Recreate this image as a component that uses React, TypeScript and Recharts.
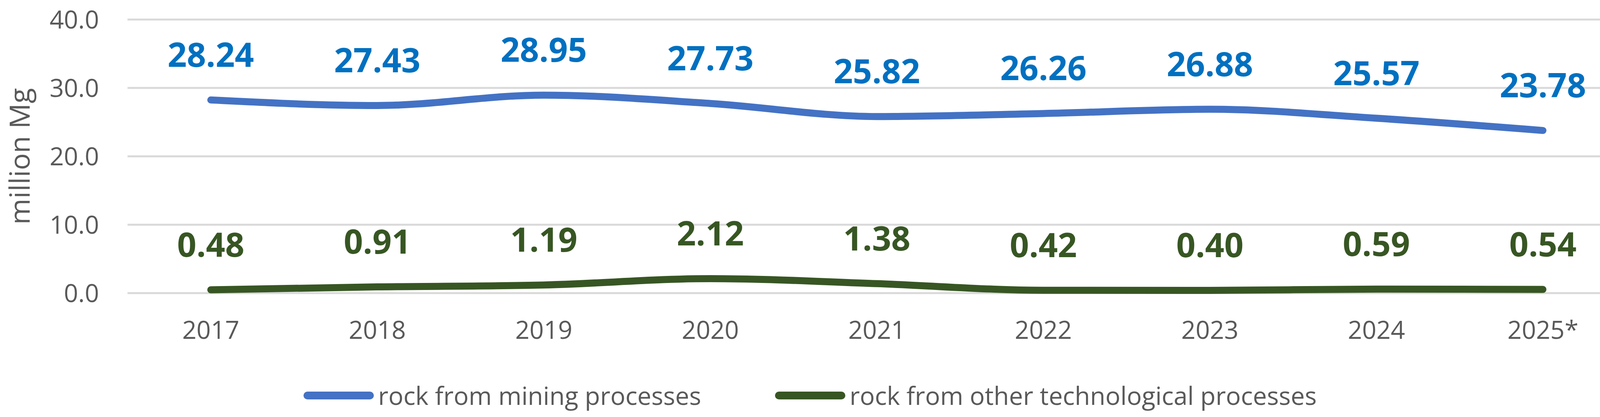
import React from 'react';
import { LineChart, Line, XAxis, YAxis, CartesianGrid, Legend, LabelList, Label } from 'recharts';

const years = ['2017', '2018', '2019', '2020', '2021', '2022', '2023', '2024', '2025*'];
const miningRock = [28.24, 27.43, 28.95, 27.73, 25.82, 26.26, 26.88, 25.57, 23.78];
const otherRock = [0.48, 0.91, 1.19, 2.12, 1.38, 0.42, 0.4, 0.59, 0.54];
const yTicks = [0, 10, 20, 30, 40];

const seriesNames = ['rock from mining processes', 'rock from other technological processes'];

const data = years.map((year, i) => ({
  year,
  mining: miningRock[i],
  other: otherRock[i],
}));

const FONT = "'Open Sans', sans-serif";
const GREY = '#595959';
const BLUE_LINE = '#4472C4';
const BLUE_TEXT = '#0070C0';
const GREEN = '#375623';

const WIDTH = 4188;
const HEIGHT = 1067;
const PLOT_LEFT = 326.5;
const PLOT_RIGHT = 4163;
// half a category band, so points sit in the middle of each band like Excel does
const BAND_HALF = (PLOT_RIGHT - PLOT_LEFT) / years.length / 2;

function makeValueLabel(color: string) {
  return (props: any) => {
    const { x, y, value } = props;
    return (
      <text
        x={x}
        y={y - 85}
        textAnchor="middle"
        fill={color}
        fontFamily={FONT}
        fontWeight={700}
        fontSize={86}
      >
        {Number(value).toFixed(2)}
      </text>
    );
  };
}

function AxisTitle() {
  return (
    <text
      x={76}
      y={400}
      transform="rotate(-90, 76, 400)"
      textAnchor="middle"
      fill={GREY}
      fontFamily={FONT}
      fontSize={72}
    >
      million Mg
    </text>
  );
}

function LegendContent() {
  const colors = [BLUE_LINE, GREEN];
  return (
    <div
      style={{
        display: 'flex',
        alignItems: 'center',
        height: 100,
        paddingLeft: 777,
        gap: 189,
        fontFamily: FONT,
        fontSize: 64,
        color: GREY,
      }}
    >
      {seriesNames.map((name, i) => (
        <div key={name} style={{ display: 'flex', alignItems: 'center' }}>
          <svg width={180} height={20} style={{ marginRight: 11 }}>
            <line x1={10} y1={10} x2={170} y2={10} stroke={colors[i]} strokeWidth={20} strokeLinecap="round" />
          </svg>
          <span style={{ lineHeight: '64px', whiteSpace: 'nowrap' }}>{name}</span>
        </div>
      ))}
    </div>
  );
}

export default function App() {
  return (
    <div style={{ width: WIDTH, height: HEIGHT, background: '#fff' }}>
      <style>{'body{margin:0}'}</style>
      <LineChart
        width={WIDTH}
        height={HEIGHT}
        data={data}
        margin={{ top: 50, right: WIDTH - PLOT_RIGHT, bottom: 0, left: 0 }}
      >
        <CartesianGrid vertical={false} stroke="#D9D9D9" strokeWidth={5} />
        <XAxis
          dataKey="year"
          height={317}
          interval={0}
          axisLine={false}
          tickLine={false}
          tickSize={0}
          tickMargin={72}
          padding={{ left: BAND_HALF, right: BAND_HALF }}
          tick={{ fill: GREY, fontSize: 64, fontFamily: FONT }}
        />
        <YAxis
          width={PLOT_LEFT}
          domain={[0, 40]}
          ticks={yTicks}
          axisLine={false}
          tickLine={false}
          tickSize={0}
          tickMargin={73}
          tickFormatter={(v: number) => v.toFixed(1)}
          tick={{ fill: GREY, fontSize: 64, fontFamily: FONT }}
        >
          <Label content={<AxisTitle />} />
        </YAxis>
        <Legend
          layout="horizontal"
          verticalAlign="middle"
          align="center"
          content={<LegendContent />}
          wrapperStyle={{ top: 962, left: 0, width: WIDTH, height: 100 }}
        />
        <Line
          type="monotone"
          dataKey="mining"
          name={seriesNames[0]}
          stroke={BLUE_LINE}
          strokeWidth={18}
          strokeLinecap="round"
          strokeLinejoin="round"
          dot={false}
          activeDot={false}
          isAnimationActive={false}
        >
          <LabelList dataKey="mining" content={makeValueLabel(BLUE_TEXT)} />
        </Line>
        <Line
          type="monotone"
          dataKey="other"
          name={seriesNames[1]}
          stroke={GREEN}
          strokeWidth={18}
          strokeLinecap="round"
          strokeLinejoin="round"
          dot={false}
          activeDot={false}
          isAnimationActive={false}
        >
          <LabelList dataKey="other" content={makeValueLabel(GREEN)} />
        </Line>
      </LineChart>
    </div>
  );
}
